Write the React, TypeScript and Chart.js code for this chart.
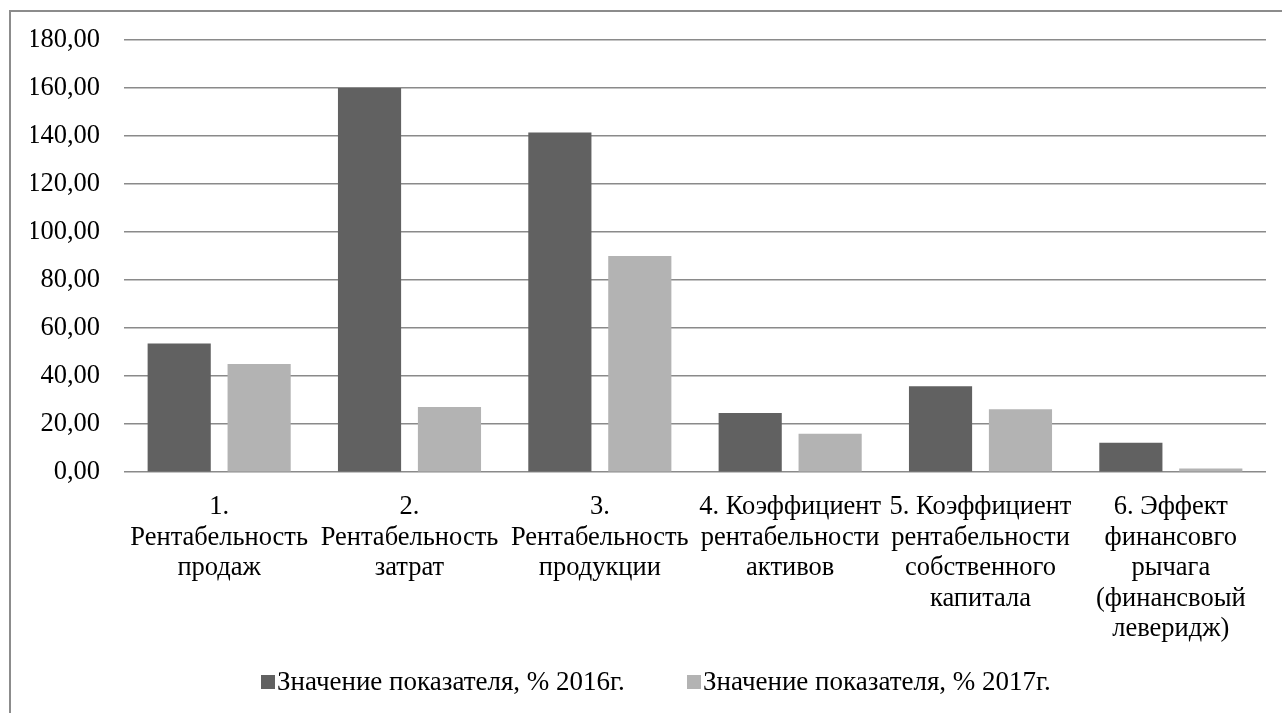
import React, { useEffect, useRef } from "react";
import { Chart, registerables } from "chart.js";

Chart.register(...registerables);

const categories: string[][] = [
  ["1.", "Рентабельность", "продаж"],
  ["2.", "Рентабельность", "затрат"],
  ["3.", "Рентабельность", "продукции"],
  ["4. Коэффициент", "рентабельности", "активов"],
  ["5. Коэффициент", "рентабельности", "собственного", "капитала"],
  ["6. Эффект", "финансовго", "рычага", "(финансвоый", "леверидж)"],
];

const seriesLabels = ["Значение показателя, % 2016г.", "Значение показателя, % 2017г."];
const values2016 = [53.6, 160.0, 141.5, 24.6, 35.8, 12.2];
const values2017 = [45.0, 27.1, 90.0, 16.0, 26.2, 1.5];
const yTicks = [0, 20, 40, 60, 80, 100, 120, 140, 160, 180];

const COLORS = ["#616161", "#b3b3b3"];
const FONT = '"Liberation Serif", "Times New Roman", serif';
const TICK_SIZE = 26.5;
const LEGEND_SIZE = 27;

const legendPlugin = {
  id: "bottomLegend",
  afterDraw(chart: any) {
    const ctx = chart.ctx as CanvasRenderingContext2D;
    const xs = [250, 676];
    const y = 670;
    const box = 14;
    ctx.save();
    ctx.font = `${LEGEND_SIZE}px ${FONT}`;
    ctx.textBaseline = "middle";
    ctx.textAlign = "left";
    chart.data.datasets.forEach((ds: any, i: number) => {
      ctx.fillStyle = ds.backgroundColor;
      ctx.fillRect(xs[i], y - box / 2, box, box);
      ctx.fillStyle = "#000";
      ctx.fillText(ds.label, xs[i] + box + 2, y + 1);
    });
    ctx.restore();
  },
};

export default function App() {
  const ref = useRef<HTMLCanvasElement | null>(null);

  useEffect(() => {
    if (!ref.current) return;
    Chart.defaults.font.family = FONT;
    const chart = new Chart(ref.current, {
      type: "bar",
      data: {
        labels: categories,
        datasets: [
          {
            label: seriesLabels[0],
            data: values2016,
            backgroundColor: COLORS[0],
            categoryPercentage: 0.84,
            barPercentage: 0.79,
          },
          {
            label: seriesLabels[1],
            data: values2017,
            backgroundColor: COLORS[1],
            categoryPercentage: 0.84,
            barPercentage: 0.79,
          },
        ],
      },
      options: {
        responsive: false,
        animation: false,
        layout: { padding: { left: 20, right: 16, top: 28, bottom: 48.5 } },
        plugins: {
          legend: { display: false },
          tooltip: { enabled: false },
        },
        scales: {
          x: {
            grid: { display: false, drawTicks: false },
            border: { display: false },
            ticks: {
              color: "#000",
              padding: 20,
              maxRotation: 0,
              autoSkip: false,
              font: { size: TICK_SIZE, lineHeight: 1.15, family: FONT },
            },
          },
          y: {
            min: 0,
            max: 180,
            afterBuildTicks: (scale: any) => {
              scale.ticks = yTicks.map((v) => ({ value: v }));
            },
            afterFit: (scale: any) => {
              scale.width = 93;
              scale.paddingTop = 0;
              scale.paddingBottom = 0;
            },
            grid: { color: "#8a8a8a", lineWidth: 1.5, drawTicks: false },
            border: { display: false },
            ticks: {
              color: "#000",
              padding: 24,
              font: { size: TICK_SIZE, family: FONT },
              callback: (v: any) => Number(v).toFixed(2).replace(".", ","),
            },
          },
        },
      },
      plugins: [legendPlugin],
    });
    return () => chart.destroy();
  }, []);

  return (
    <div
      style={{
        position: "fixed",
        left: 9,
        top: 10,
        width: 1273,
        height: 703,
        boxSizing: "border-box",
        borderTop: "2px solid #8c8c8c",
        borderLeft: "2px solid #8c8c8c",
        background: "#fff",
        overflow: "hidden",
      }}
    >
      <canvas ref={ref} width={1271} height={701} style={{ display: "block", width: 1271, height: 701 }} />
    </div>
  );
}
